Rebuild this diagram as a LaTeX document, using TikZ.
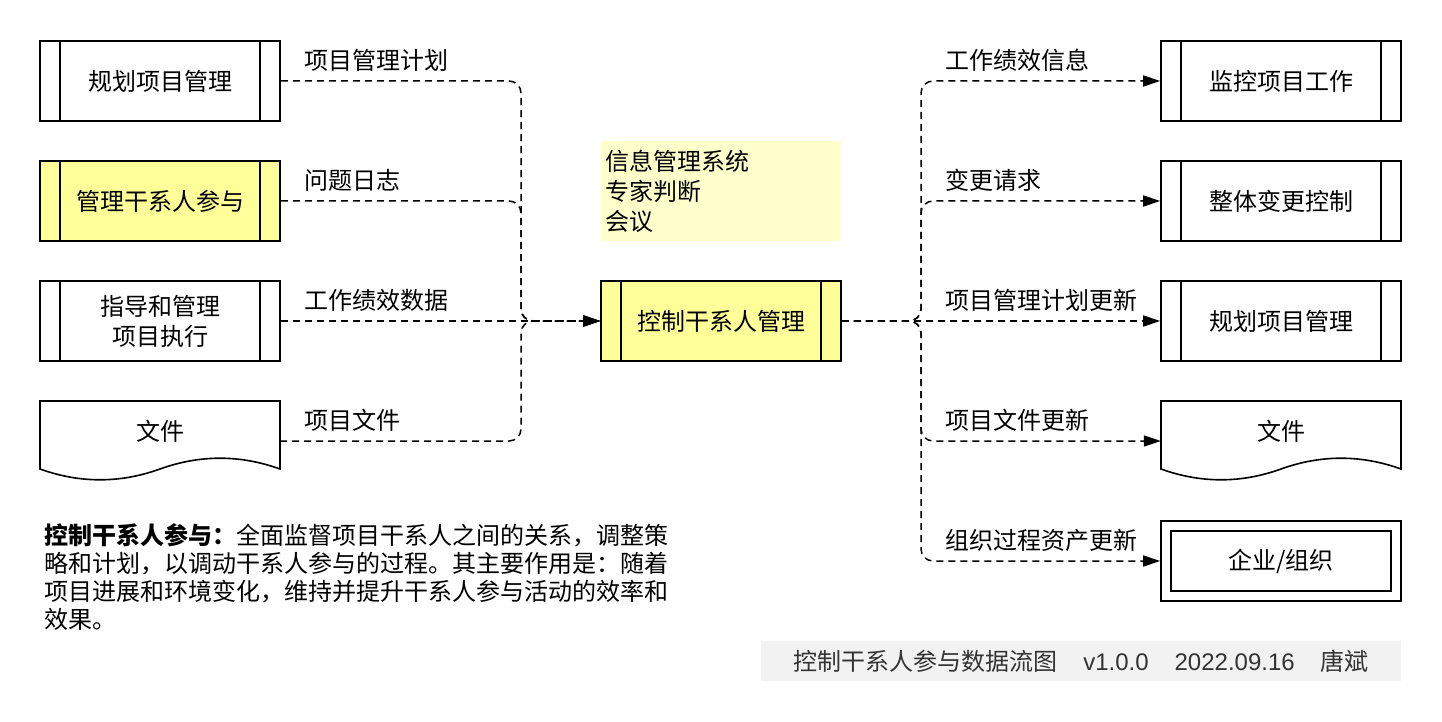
\documentclass[tikz,border=0pt]{standalone}
\usepackage{fontspec}
\setmainfont{Liberation Sans}
\newfontfamily\cjk{Noto Sans CJK SC}
\usetikzlibrary{arrows.meta}
\definecolor{procyellow}{HTML}{FFFF99}
\definecolor{toolyellow}{HTML}{FFFFCC}
\definecolor{footgray}{HTML}{F2F2F2}
\definecolor{foottext}{HTML}{333333}
\tikzset{
  base/.style={font=\cjk\fontsize{24}{30}\selectfont, text=black},
  proc/.style={base, draw, line width=1.6pt, minimum width=240pt, minimum height=80pt,
    inner sep=0pt, align=center,
    path picture={\draw[line width=1.6pt]
      ([xshift=20pt]path picture bounding box.north west) -- ([xshift=20pt]path picture bounding box.south west)
      ([xshift=-20pt]path picture bounding box.north east) -- ([xshift=-20pt]path picture bounding box.south east);}},
  docnode/.style={base, minimum width=240pt, minimum height=80pt, inner sep=0pt},
  docline/.style={draw, line width=1.6pt},
  corp/.style={base, draw, line width=1.6pt, minimum width=240pt, minimum height=80pt, inner sep=0pt,
    path picture={\draw[line width=1.6pt]
      ([shift={(10pt,-10pt)}]path picture bounding box.north west) rectangle
      ([shift={(-10pt,10pt)}]path picture bounding box.south east);}},
  tools/.style={base, fill=toolyellow, minimum width=240pt, minimum height=100pt, inner xsep=4pt,
    text width=232pt, align=left},
  lbl/.style={base, anchor=west, inner sep=0pt},
  desc/.style={font=\cjk\fontsize{24}{28}\selectfont, anchor=north west, align=left, inner sep=0pt},
  footer/.style={fill=footgray, minimum width=640pt, minimum height=40pt, inner sep=0pt,
    text=foottext, font=\fontsize{24}{28}\selectfont},
  flow/.style={draw, line width=1.5pt, dash pattern=on 7pt off 5pt, rounded corners=12pt,
    -{Triangle[length=17pt,width=11pt]}},
}
\begin{document}
\begin{tikzpicture}[x=1pt,y=-1pt]
\useasboundingbox[fill=white] (0,0) rectangle (1442,722);

% left inputs
\node[proc] (b1) at (160,81) {规划项目管理};
\node[proc, fill=procyellow] (b2) at (160,201) {管理干系人参与};
\node[proc] (b3) at (160,321) {指导和管理\\项目执行};
\draw[docline] (40,469) -- (40,401) -- (280,401) -- (280,469)
  .. controls (240,454.6) and (200,454.6) .. (160,469)
  .. controls (120,483.4) and (80,483.4) .. (40,469) -- cycle;
\node[docnode] (d1) at (160,441) {\raisebox{1pt}[0pt][0pt]{文件}};

% centre
\node[tools] (t) at (721,191) {信息管理系统\\专家判断\\会议};
\node[proc, fill=procyellow] (c) at (721,321) {控制干系人管理};

% right outputs
\node[proc] (r1) at (1281,81) {监控项目工作};
\node[proc] (r2) at (1281,201) {整体变更控制};
\node[proc] (r3) at (1281,321) {规划项目管理};
\draw[docline] (1161,469) -- (1161,401) -- (1401,401) -- (1401,469)
  .. controls (1361,454.6) and (1321,454.6) .. (1281,469)
  .. controls (1241,483.4) and (1201,483.4) .. (1161,469) -- cycle;
\node[docnode] (r4) at (1281,441) {\raisebox{1pt}[0pt][0pt]{文件}};
\node[corp] (r5) at (1281,561) {企业/组织};

% junctions
\coordinate (jl) at (521,321);
\coordinate (jr) at (921,321);

% left connectors
\draw[flow] (b1.east) -| (jl) -- (c.west);
\draw[flow] (b2.east) -| (jl) -- (c.west);
\draw[flow] (b3.east) -- (c.west);
\draw[flow] (d1.east) -| (jl) -- (c.west);

% right connectors
\draw[flow] (c.east) -- (jr) |- (r1.west);
\draw[flow] (c.east) -- (jr) |- (r2.west);
\draw[flow] (c.east) -- (r3.west);
\draw[flow] (c.east) -- (jr) |- (r4.west);
\draw[flow] (c.east) -- (jr) |- (r5.west);

% labels
\node[lbl] (l1) at (304,60) {项目管理计划};
\node[lbl] (l2) at (304,180) {问题日志};
\node[lbl] (l3) at (304,300) {工作绩效数据};
\node[lbl] (l4) at (304,420) {项目文件};
\node[lbl] (o1) at (945,60) {工作绩效信息};
\node[lbl] (o2) at (945,180) {变更请求};
\node[lbl] (o3) at (945,300) {项目管理计划更新};
\node[lbl] (o4) at (945,420) {项目文件更新};
\node[lbl] (o5) at (945,540) {组织过程资产更新};

% description
\node[desc] (desc) at (44,523) {{\bfseries 控制干系人参与：}全面监督项目干系人之间的关系，调整策\\
略和计划，以调动干系人参与的过程。其主要作用是：随着\\
项目进展和环境变化，维持并提升干系人参与活动的效率和\\
效果。};

% footer
\node[footer] (foot) at (1081,661) {{\cjk 控制干系人参与数据流图}\hspace{26pt}v1.0.0\hspace{26pt}2022.09.16\hspace{26pt}{\cjk 唐斌}};
\end{tikzpicture}
\end{document}
